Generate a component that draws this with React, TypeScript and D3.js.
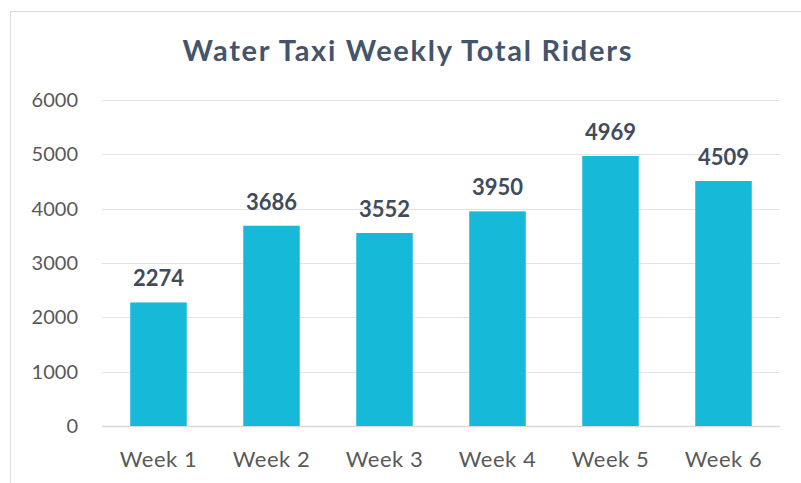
import { useEffect, useRef } from "react";
import * as d3 from "d3";

const weeks = ["Week 1", "Week 2", "Week 3", "Week 4", "Week 5", "Week 6"];
const riders = [2274, 3686, 3552, 3950, 4969, 4509];
const yTicks = [0, 1000, 2000, 3000, 4000, 5000, 6000];
const chartTitle = "Water Taxi Weekly Total Riders";

const width = 801;
const height = 483;

export default function App() {
  const svgRef = useRef<SVGSVGElement | null>(null);

  useEffect(() => {
    const svg = d3.select(svgRef.current);
    svg.selectAll("*").remove();

    const margin = { top: 100, right: 21, bottom: 57, left: 102 };
    const innerWidth = width - margin.left - margin.right;
    const innerHeight = height - margin.top - margin.bottom;
    const font = "Lato, 'Open Sans', sans-serif";

    // chart frame
    svg
      .append("rect")
      .attr("x", 10.5)
      .attr("y", 11.5)
      .attr("width", width)
      .attr("height", height)
      .attr("fill", "white")
      .attr("stroke", "#D9DDE3");

    svg
      .append("text")
      .attr("x", 407)
      .attr("y", 61)
      .attr("text-anchor", "middle")
      .attr("font-family", font)
      .attr("font-weight", "bold")
      .attr("font-size", 29)
      .attr("textLength", 449)
      .attr("lengthAdjust", "spacing")
      .attr("fill", "#44546A")
      .text(chartTitle);

    const x = d3
      .scaleBand()
      .domain(weeks)
      .range([0, innerWidth])
      .paddingInner(0.5)
      .paddingOuter(0.25);

    const y = d3.scaleLinear().domain([0, 6000]).range([innerHeight, 0]);

    const g = svg
      .append("g")
      .attr("transform", `translate(${margin.left},${margin.top})`);

    // gridlines
    g.selectAll("line.grid")
      .data(yTicks)
      .enter()
      .append("line")
      .attr("class", "grid")
      .attr("x1", 0)
      .attr("x2", innerWidth)
      .attr("y1", (d) => Math.round(y(d)) + 0.5)
      .attr("y2", (d) => Math.round(y(d)) + 0.5)
      .attr("stroke", (d) => (d === 0 ? "#D9D9D9" : "#E3E3E3"))
      .attr("stroke-width", (d) => (d === 0 ? 1.5 : 1));

    // y tick labels
    g.selectAll("text.ytick")
      .data(yTicks)
      .enter()
      .append("text")
      .attr("class", "ytick")
      .attr("x", -24)
      .attr("y", (d) => y(d))
      .attr("dy", "0.35em")
      .attr("text-anchor", "end")
      .attr("font-family", font)
      .attr("font-size", 20)
      .attr("fill", "#595959")
      .text((d) => d);

    // bars
    g.selectAll("rect.bar")
      .data(riders)
      .enter()
      .append("rect")
      .attr("class", "bar")
      .attr("x", (d, i) => x(weeks[i])!)
      .attr("y", (d) => y(d))
      .attr("width", x.bandwidth())
      .attr("height", (d) => innerHeight - y(d))
      .attr("fill", "#17B9D9");

    // value labels
    g.selectAll("text.value")
      .data(riders)
      .enter()
      .append("text")
      .attr("class", "value")
      .attr("x", (d, i) => x(weeks[i])! + x.bandwidth() / 2)
      .attr("y", (d) => y(d) - 16)
      .attr("text-anchor", "middle")
      .attr("font-family", font)
      .attr("font-weight", "bold")
      .attr("font-size", 22)
      .attr("fill", "#404B5C")
      .text((d) => d);

    // x labels
    g.selectAll("text.xtick")
      .data(weeks)
      .enter()
      .append("text")
      .attr("class", "xtick")
      .attr("x", (d) => x(d)! + x.bandwidth() / 2)
      .attr("y", innerHeight + 41)
      .attr("text-anchor", "middle")
      .attr("font-family", font)
      .attr("font-size", 22)
      .attr("letter-spacing", 0.5)
      .attr("fill", "#595959")
      .text((d) => d);
  }, []);

  return (
    <svg
      ref={svgRef}
      width={width}
      height={height}
      style={{ position: "absolute", left: 0, top: 0 }}
    ></svg>
  );
}
